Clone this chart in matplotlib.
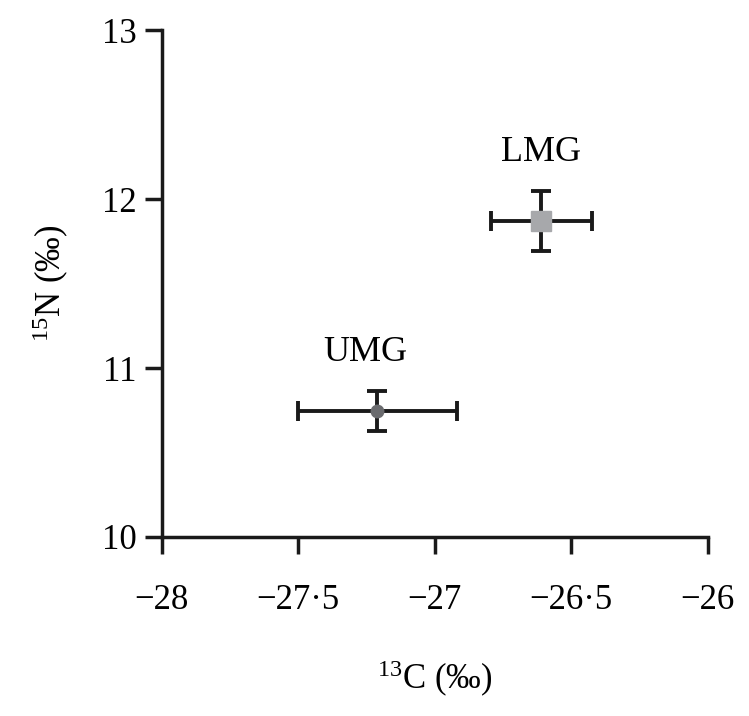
import matplotlib
matplotlib.use("Agg")
import matplotlib.pyplot as plt

# data
groups = ["UMG", "LMG"]
d13c = [-27.21, -26.61]
d13c_err = [0.29, 0.185]
d15n = [10.745, 11.87]
d15n_err = [0.12, 0.18]
marker_styles = ["o", "s"]
marker_colors = ["#6a6b6e", "#a7a8ab"]
marker_sizes = [9, 15]
label_dx = [-0.045, 0.0]

x_ticks = [-28, -27.5, -27, -26.5, -26]
x_tick_labels = ["\u221228", "\u221227\u00b75", "\u221227", "\u221226\u00b75", "\u221226"]
y_ticks = [10, 11, 12, 13]

plt.rcParams["font.family"] = ["Liberation Serif", "DejaVu Serif"]
plt.rcParams["mathtext.fontset"] = "custom"
plt.rcParams["mathtext.rm"] = "Liberation Serif"

fig = plt.figure(figsize=(7.49, 7.16), dpi=100)
ax = fig.add_axes([0.216, 0.25, 0.729, 0.708])

for i, g in enumerate(groups):
    ax.errorbar(d13c[i], d15n[i], xerr=d13c_err[i], yerr=d15n_err[i],
                fmt="none", ecolor="#1a1a1a", elinewidth=2.8, capsize=7.5,
                capthick=2.8, zorder=2)
    ax.plot(d13c[i], d15n[i], marker=marker_styles[i], color=marker_colors[i],
            markersize=marker_sizes[i], linestyle="none", zorder=3)
    ax.text(d13c[i] + label_dx[i], d15n[i] + d15n_err[i] + 0.13, g,
            ha="center", va="bottom", fontsize=26)

ax.set_xlim(-28, -26)
ax.set_ylim(10, 13)
ax.set_xticks(x_ticks)
ax.set_xticklabels(x_tick_labels)
ax.set_yticks(y_ticks)

for side in ["top", "right"]:
    ax.spines[side].set_visible(False)
for side in ["left", "bottom"]:
    ax.spines[side].set_linewidth(2.5)
    ax.spines[side].set_color("#1a1a1a")

ax.tick_params(axis="both", direction="out", length=12, width=2.5,
               labelsize=25, color="#1a1a1a")
ax.tick_params(axis="x", pad=22)
ax.tick_params(axis="y", pad=6)

ax.set_xlabel(r"$\mathrm{^{13}}$C (‰)", fontsize=25, labelpad=30)
ax.set_ylabel(r"$\mathrm{^{15}}$N (‰)", fontsize=25, labelpad=22)

fig.savefig("out.png", dpi=100)
